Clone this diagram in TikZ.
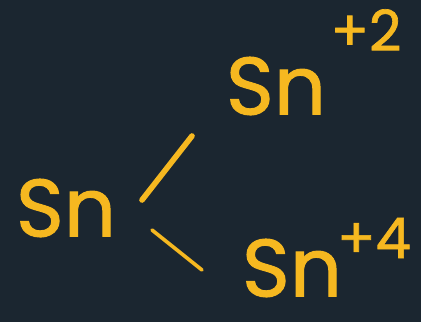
\documentclass[tikz,border=0pt]{standalone}
\usepackage{fontspec}
\newfontfamily\chalkfont{Poppins}[FakeBold=1.2]
\usepackage{xcolor}
\usetikzlibrary{positioning,calc}
\definecolor{board}{HTML}{1B2630}
\definecolor{chalk}{HTML}{F6B820}

\begin{document}
\begin{tikzpicture}[
    ion/.style={inner sep=0pt, text=chalk, font=\fontsize{58}{58}\chalkfont},
    charge/.style={inner sep=0pt, text=chalk, font=\fontsize{40}{40}\chalkfont},
    stroke/.style={chalk, line width=4pt, line cap=round}
]
\fill[board] (0,0) rectangle (10.525,8.05);
\useasboundingbox (0,0) rectangle (10.525,8.05);
\node[ion] (sn) at (1.65,2.85) {Sn};
\node[ion] (sntwo) at (6.9,5.9) {Sn};
\node[charge] (two) at (9.15,7.3) {+2};
\node[ion] (snfour) at (7.3,1.35) {Sn};
\node[charge] (four) at (9.35,2.1) {+4};
\coordinate (upA) at (3.55,3.05);
\coordinate (upB) at (4.8,4.65);
\coordinate (dnA) at (3.8,2.3);
\coordinate (dnB) at (5.05,1.3);
\draw[stroke] (upA) -- (upB);
\draw[stroke, line width=2.6pt] (dnA) -- (dnB);
\end{tikzpicture}
\end{document}
